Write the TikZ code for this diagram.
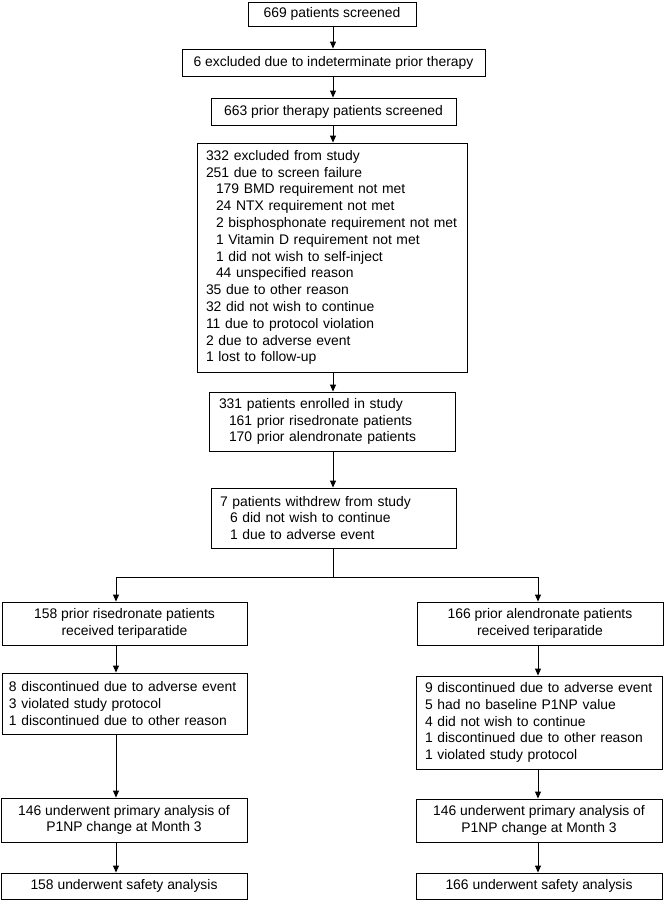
\documentclass[tikz,border=0pt]{standalone}
\usepackage{fontspec}
\setmainfont{Liberation Sans}
\usetikzlibrary{arrows.meta,calc}
\begin{document}
\begin{tikzpicture}[x=1pt,y=-1pt,
  box/.style={draw, line width=0.9pt, inner sep=0pt, font=\fontsize{13.9}{16.6}\selectfont},
  listbox/.style={box, align=left},
  arr/.style={-{Triangle[length=7pt,width=6pt]}, line width=0.9pt},
  ln/.style={line width=0.9pt}]
\useasboundingbox (0,0) rectangle (665,900);
\fill[white] (0,0) rectangle (665,900);

\node[box, minimum width=168, minimum height=24] (b1) at (332,14) {669 patients screened};
\node[box, minimum width=303, minimum height=27] (b2) at (333.5,62.5) {6 excluded due to indeterminate prior therapy};
\node[box, minimum width=245, minimum height=27] (b3) at (333.5,111.5) {663 prior therapy patients screened};
\node[listbox, minimum width=270, minimum height=229, text width=252, font=\fontsize{13.9}{16.8}\selectfont] (b4) at (332,257.5) {332 excluded from study\\
251 due to screen failure\\
\hspace*{10pt}179 BMD requirement not met\\
\hspace*{10pt}24 NTX requirement not met\\
\hspace*{10pt}2 bisphosphonate requirement not met\\
\hspace*{10pt}1 Vitamin D requirement not met\\
\hspace*{10pt}1 did not wish to self-inject\\
\hspace*{10pt}44 unspecified reason\\
35 due to other reason\\
32 did not wish to continue\\
11 due to protocol violation\\
2 due to adverse event\\
1 lost to follow-up};
\node[listbox, minimum width=246, minimum height=59, text width=226] (b5) at (332,421.5) {331 patients enrolled in study\\
\hspace*{10pt}161 prior risedronate patients\\
\hspace*{10pt}170 prior alendronate patients};
\node[listbox, minimum width=245, minimum height=60, text width=227] (b6) at (333.5,518) {7 patients withdrew from study\\
\hspace*{10pt}6 did not wish to continue\\
\hspace*{10pt}1 due to adverse event};

\node[box, align=center, minimum width=245, minimum height=43] (b7) at (124.5,623.5) {158 prior risedronate patients\\received teriparatide};
\node[box, align=center, minimum width=246, minimum height=43] (b8) at (540,623.5) {166 prior alendronate patients\\received teriparatide};
\node[listbox, minimum width=245, minimum height=61, text width=231] (b9) at (124.5,703.5) {8 discontinued due to adverse event\\
3 violated study protocol\\
1 discontinued due to other reason};
\node[listbox, minimum width=246, minimum height=93, text width=228] (b10) at (539,722.5) {9 discontinued due to adverse event\\
5 had no baseline P1NP value\\
4 did not wish to continue\\
1 discontinued due to other reason\\
1 violated study protocol};
\node[box, align=center, minimum width=246, minimum height=44] (b11) at (124,820) {146 underwent primary analysis of\\P1NP change at Month 3};
\node[box, align=center, minimum width=246, minimum height=43] (b12) at (539,820.5) {146 underwent primary analysis of\\P1NP change at Month 3};
\node[box, minimum width=246, minimum height=26] (b13) at (124,886) {158 underwent safety analysis};
\node[box, minimum width=246, minimum height=26] (b14) at (539,886) {166 underwent safety analysis};

\coordinate (xm) at (333,0);
\coordinate (xl) at (116,0);
\coordinate (xr) at (538,0);
\coordinate (sp) at (333,577);

\draw[arr] (b1.south -| xm) -- (b2.north -| xm);
\draw[arr] (b2.south -| xm) -- (b3.north -| xm);
\draw[arr] (b3.south -| xm) -- (b4.north -| xm);
\draw[arr] (b4.south -| xm) -- (b5.north -| xm);
\draw[arr] (b5.south -| xm) -- (b6.north -| xm);
\draw[ln] (b6.south -| xm) -- (sp);
\draw[arr] (sp) -| (b7.north -| xl);
\draw[arr] (sp) -| (b8.north -| xr);
\draw[arr] (b7.south -| xl) -- (b9.north -| xl);
\draw[arr] (b9.south -| xl) -- (b11.north -| xl);
\draw[arr] (b11.south -| xl) -- (b13.north -| xl);
\draw[arr] (b8.south -| xr) -- (b10.north -| xr);
\draw[arr] (b10.south -| xr) -- (b12.north -| xr);
\draw[arr] (b12.south -| xr) -- (b14.north -| xr);
\end{tikzpicture}
\end{document}
